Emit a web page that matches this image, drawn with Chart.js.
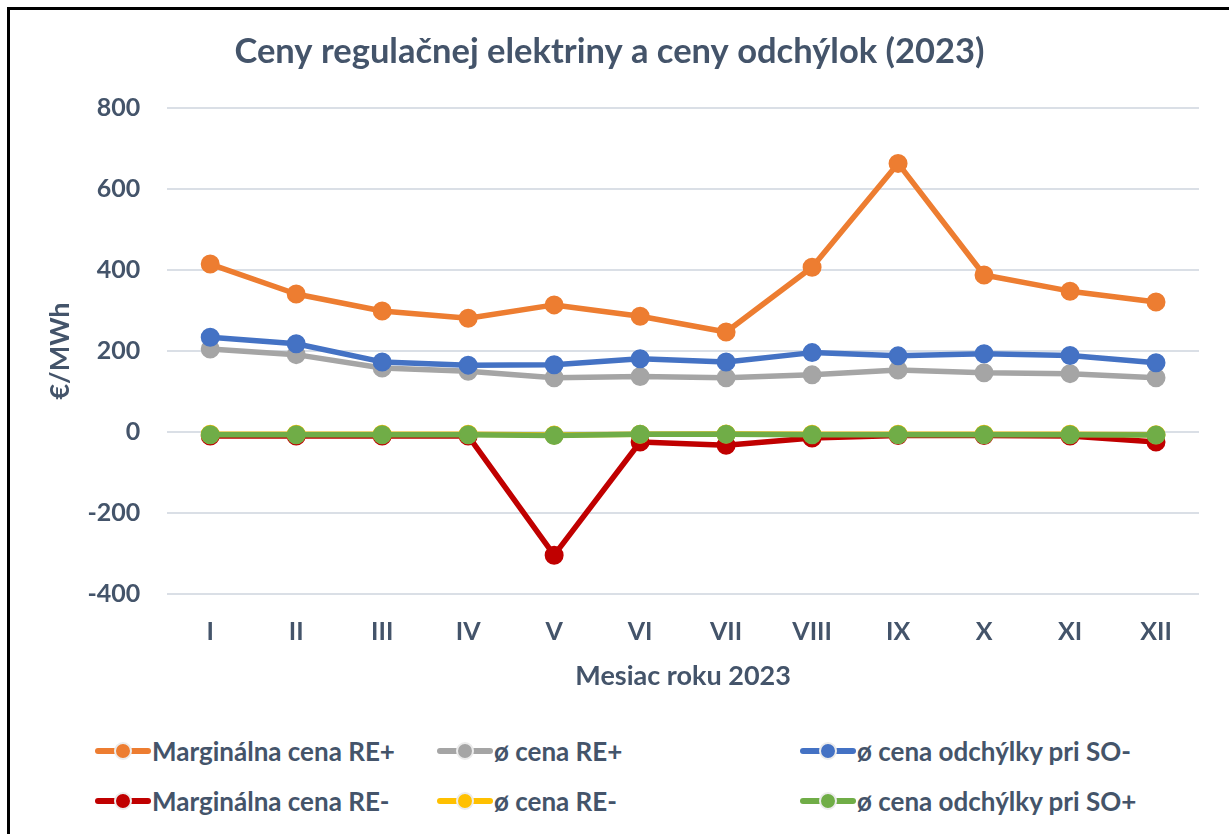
<!DOCTYPE html>
<html>
<head>
<meta charset="utf-8">
<script src="https://cdn.jsdelivr.net/npm/chart.js@4/dist/chart.umd.min.js"></script>
<style>
  body { margin: 0; background: #fff; overflow: hidden; width: 1229px; height: 834px; position: relative; }
  #frame { position: absolute; left: 7px; top: 7px; width: 1400px; height: 1000px; border-left: 3px solid #000; border-top: 3px solid #000; }
  #chart { position: absolute; left: 0; top: 0; }
  .item { position: absolute; height: 30px; display: flex; align-items: center; font: bold 26px Lato, sans-serif; color: #44546A; white-space: nowrap; }
  .mark { position: relative; width: 56px; height: 30px; margin-right: 1px; }
  .mark .ln { position: absolute; left: 0; right: 0; top: 12px; height: 6px; border-radius: 3px; }
  .mark .dot { position: absolute; left: 19px; top: 6px; width: 14px; height: 14px; border-radius: 50%; border: 2px solid #ececec; }
</style>
</head>
<body>
<div id="frame"></div>
<canvas id="chart" width="1229" height="720"></canvas>
<div id="legend"></div>
<script>
// months
let months = ['I', 'II', 'III', 'IV', 'V', 'VI', 'VII', 'VIII', 'IX', 'X', 'XI', 'XII'];

// €/MWh
let margPlus  = [415, 341, 299, 281, 314, 286, 247, 407, 664, 388, 348, 321];
let avgPlus   = [205, 191, 158, 150, 134, 137, 134, 141, 153, 146, 144, 134];
let devMinus  = [234, 218, 173, 165, 166, 181, 173, 196, 188, 193, 189, 171];
let margMinus = [-10, -10, -10, -10, -305, -25, -33, -15, -9, -9, -10, -25];
let avgMinus  = [-6, -6, -6, -6, -8, -6, -5, -6, -6, -6, -6, -7];
let devPlus   = [-7, -7, -7, -7, -9, -6, -6, -7, -7, -7, -7, -8];

let names = ['Marginálna cena RE+', 'ø cena RE+', 'ø cena odchýlky pri SO-',
             'Marginálna cena RE-', 'ø cena RE-', 'ø cena odchýlky pri SO+'];
let colors = ['#ED7D31', '#A5A5A5', '#4472C4', '#C00000', '#FFC000', '#70AD47'];
let series = [margPlus, avgPlus, devMinus, margMinus, avgMinus, devPlus];

let textColor = '#44546A';
let font = 'Lato, sans-serif';

let datasets = series.map((data, i) => ({
    label: names[i],
    data: data,
    borderColor: colors[i],
    backgroundColor: colors[i],
    pointBackgroundColor: colors[i],
    order: series.length - i   // later series sit on top
}));

let ctx = document.querySelector('#chart').getContext('2d');
let chart = new Chart(ctx, {
    type: 'line',
    data: { labels: months, datasets: datasets },
    options: {
        responsive: false,
        animation: false,
        layout: { padding: { left: 20, right: 30, bottom: 24 } },
        elements: {
            line: { borderWidth: 5.5, tension: 0, borderJoinStyle: 'round', borderCapStyle: 'round' },
            point: { radius: 8.5, borderWidth: 2, borderColor: '#ececec', hoverRadius: 8.5 }
        },
        plugins: {
            legend: { display: false },
            tooltip: { enabled: false },
            title: {
                display: true,
                text: 'Ceny regulačnej elektriny a ceny odchýlok (2023)',
                color: textColor,
                font: { family: font, size: 34.5, weight: 'bold' },
                padding: { top: 31, bottom: 36 }
            }
        },
        scales: {
            x: {
                offset: true,
                grid: { display: false, drawTicks: false },
                border: { display: false },
                ticks: { color: textColor, font: { family: font, size: 25, weight: 'bold' }, padding: 23 },
                title: {
                    display: true,
                    text: 'Mesiac roku 2023',
                    color: textColor,
                    font: { family: font, size: 27, weight: 'bold' },
                    padding: { top: -10, bottom: 4 }
                }
            },
            y: {
                min: -400,
                max: 800,
                grid: { color: '#DADFE6', lineWidth: 2, drawTicks: false },
                border: { display: false },
                ticks: { stepSize: 200, color: textColor, font: { family: font, size: 25, weight: 'bold' }, padding: 27 },
                title: {
                    display: true,
                    text: '€/MWh',
                    color: textColor,
                    font: { family: font, size: 27, weight: 'bold' },
                    padding: { top: 24, bottom: -16 }
                }
            }
        }
    }
});

// legend laid out in three fixed columns, two rows
let colLeft = [95, 437, 800];
let rowTop = [736, 786];
let legend = document.querySelector('#legend');
chart.data.datasets.forEach((ds, i) => {
    let item = document.createElement('div');
    item.className = 'item';
    item.style.left = colLeft[i % 3] + 'px';
    item.style.top = rowTop[Math.floor(i / 3)] + 'px';
    let mark = document.createElement('div');
    mark.className = 'mark';
    mark.innerHTML = '<div class="ln" style="background:' + ds.borderColor + '"></div>' +
                     '<div class="dot" style="background:' + ds.borderColor + '"></div>';
    item.append(mark);
    item.append(ds.label);
    legend.append(item);
});
</script>
</body>
</html>
